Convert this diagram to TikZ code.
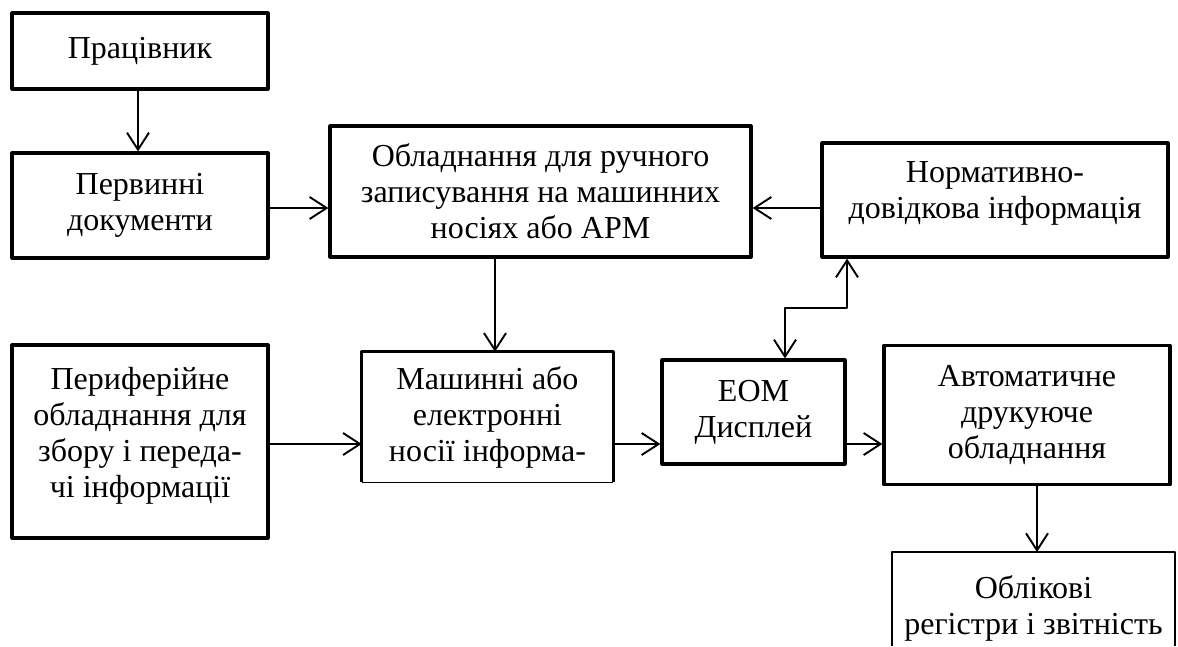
\documentclass[tikz,border=0pt]{standalone}
\usepackage{fontspec}
\setmainfont{Liberation Serif}
\usetikzlibrary{arrows.meta,calc}
\begin{document}
\begin{tikzpicture}[x=1pt,y=-1pt,
  box/.style={draw,line width=3.2pt,inner sep=0pt,align=center,
    font=\fontsize{32}{36}\selectfont},
  txt/.style={inner sep=0pt,align=center,font=\fontsize{32}{36}\selectfont},
  arr/.style={line width=1.9pt,-{Straight Barb[length=17pt,width=22pt,line width=1.9pt]}},
  dblarr/.style={line width=1.9pt,{Straight Barb[length=17pt,width=22pt,line width=1.9pt]}-{Straight Barb[length=17pt,width=22pt,line width=1.9pt]}},
  line join=round]
\useasboundingbox (0,0) rectangle (1178,646);
\fill[white] (0,0) rectangle (1178,646);
% boxes
\node[box,minimum width=256pt,minimum height=76pt] (prac) at (140,51) {Працівник};
\node[box,minimum width=256pt,minimum height=105pt] (perv) at (140,205.5) {Первинні\\документи};
\node[box,minimum width=421pt,minimum height=131pt] (obl) at (540.5,191.5) {Обладнання для ручного\\записування на машинних\\носіях або АРМ};
\node[box,minimum width=346pt,minimum height=114pt] (norm) at (995,200) {};
\node[txt] (normt) at (995,193) {Нормативно-\\довідкова інформація};
\node[box,minimum width=256pt,minimum height=193pt] (peri) at (140,441.5) {};
\node[txt] (perit) at (140,436) {Периферійне\\обладнання для\\збору і переда-\\чі інформації};
\node[txt,minimum width=251pt,minimum height=130pt] (mash) at (487.5,417) {Машинні або\\електронні\\носії інформа-};
\draw[line width=3.2pt] (mash.south west) |- (mash.north east) -- (mash.south east);
\draw[line width=1.4pt] (mash.south west) -- (mash.south east);
\node[box,minimum width=183pt,minimum height=104pt] (eom) at (753.5,412) {ЕОМ\\Дисплей};
\node[box,minimum width=286pt,minimum height=139pt] (avto) at (1027,415) {Автоматичне\\друкуюче\\обладнання};
\node[txt] (oblik) at (1033.5,608) {Облікові\\регістри і звітність};
\coordinate (oblTL) at (892,552);
\coordinate (oblTR) at (1175,552);
\coordinate (oblBL) at (892,646);
\coordinate (oblBR) at (1175,646);
\draw[line width=1.9pt] (oblBL) -- (oblTL) -- (oblTR) -- (oblBR);
\draw[line width=2.6pt] (oblTL) -- (oblTR);
% helper coordinates
\coordinate (rowA) at (0,208);
\coordinate (rowB) at (0,444);
\coordinate (colA) at (495,0);
\coordinate (colB) at (785,308);
\coordinate (colC) at (847,308);
\coordinate (colD) at (1037,0);
\coordinate (colE) at (138,0);
% connectors
\draw[arr] (prac.south -| colE) -- (perv.north -| colE);
\draw[arr] (perv.east |- rowA) -- (obl.west |- rowA);
\draw[arr] (norm.west |- rowA) -- (obl.east |- rowA);
\draw[arr] (obl.south -| colA) -- (mash.north -| colA);
\draw[arr] (peri.east |- rowB) -- (mash.west |- rowB);
\draw[arr] (mash.east |- rowB) -- (eom.west |- rowB);
\draw[arr] (eom.east |- rowB) -- (avto.west |- rowB);
\draw[dblarr] (eom.north -| colB) -- (colB) -- (colC) -- (norm.south -| colC);
\draw[arr] (avto.south -| colD) -- (oblTL -| colD);
\end{tikzpicture}
\end{document}
